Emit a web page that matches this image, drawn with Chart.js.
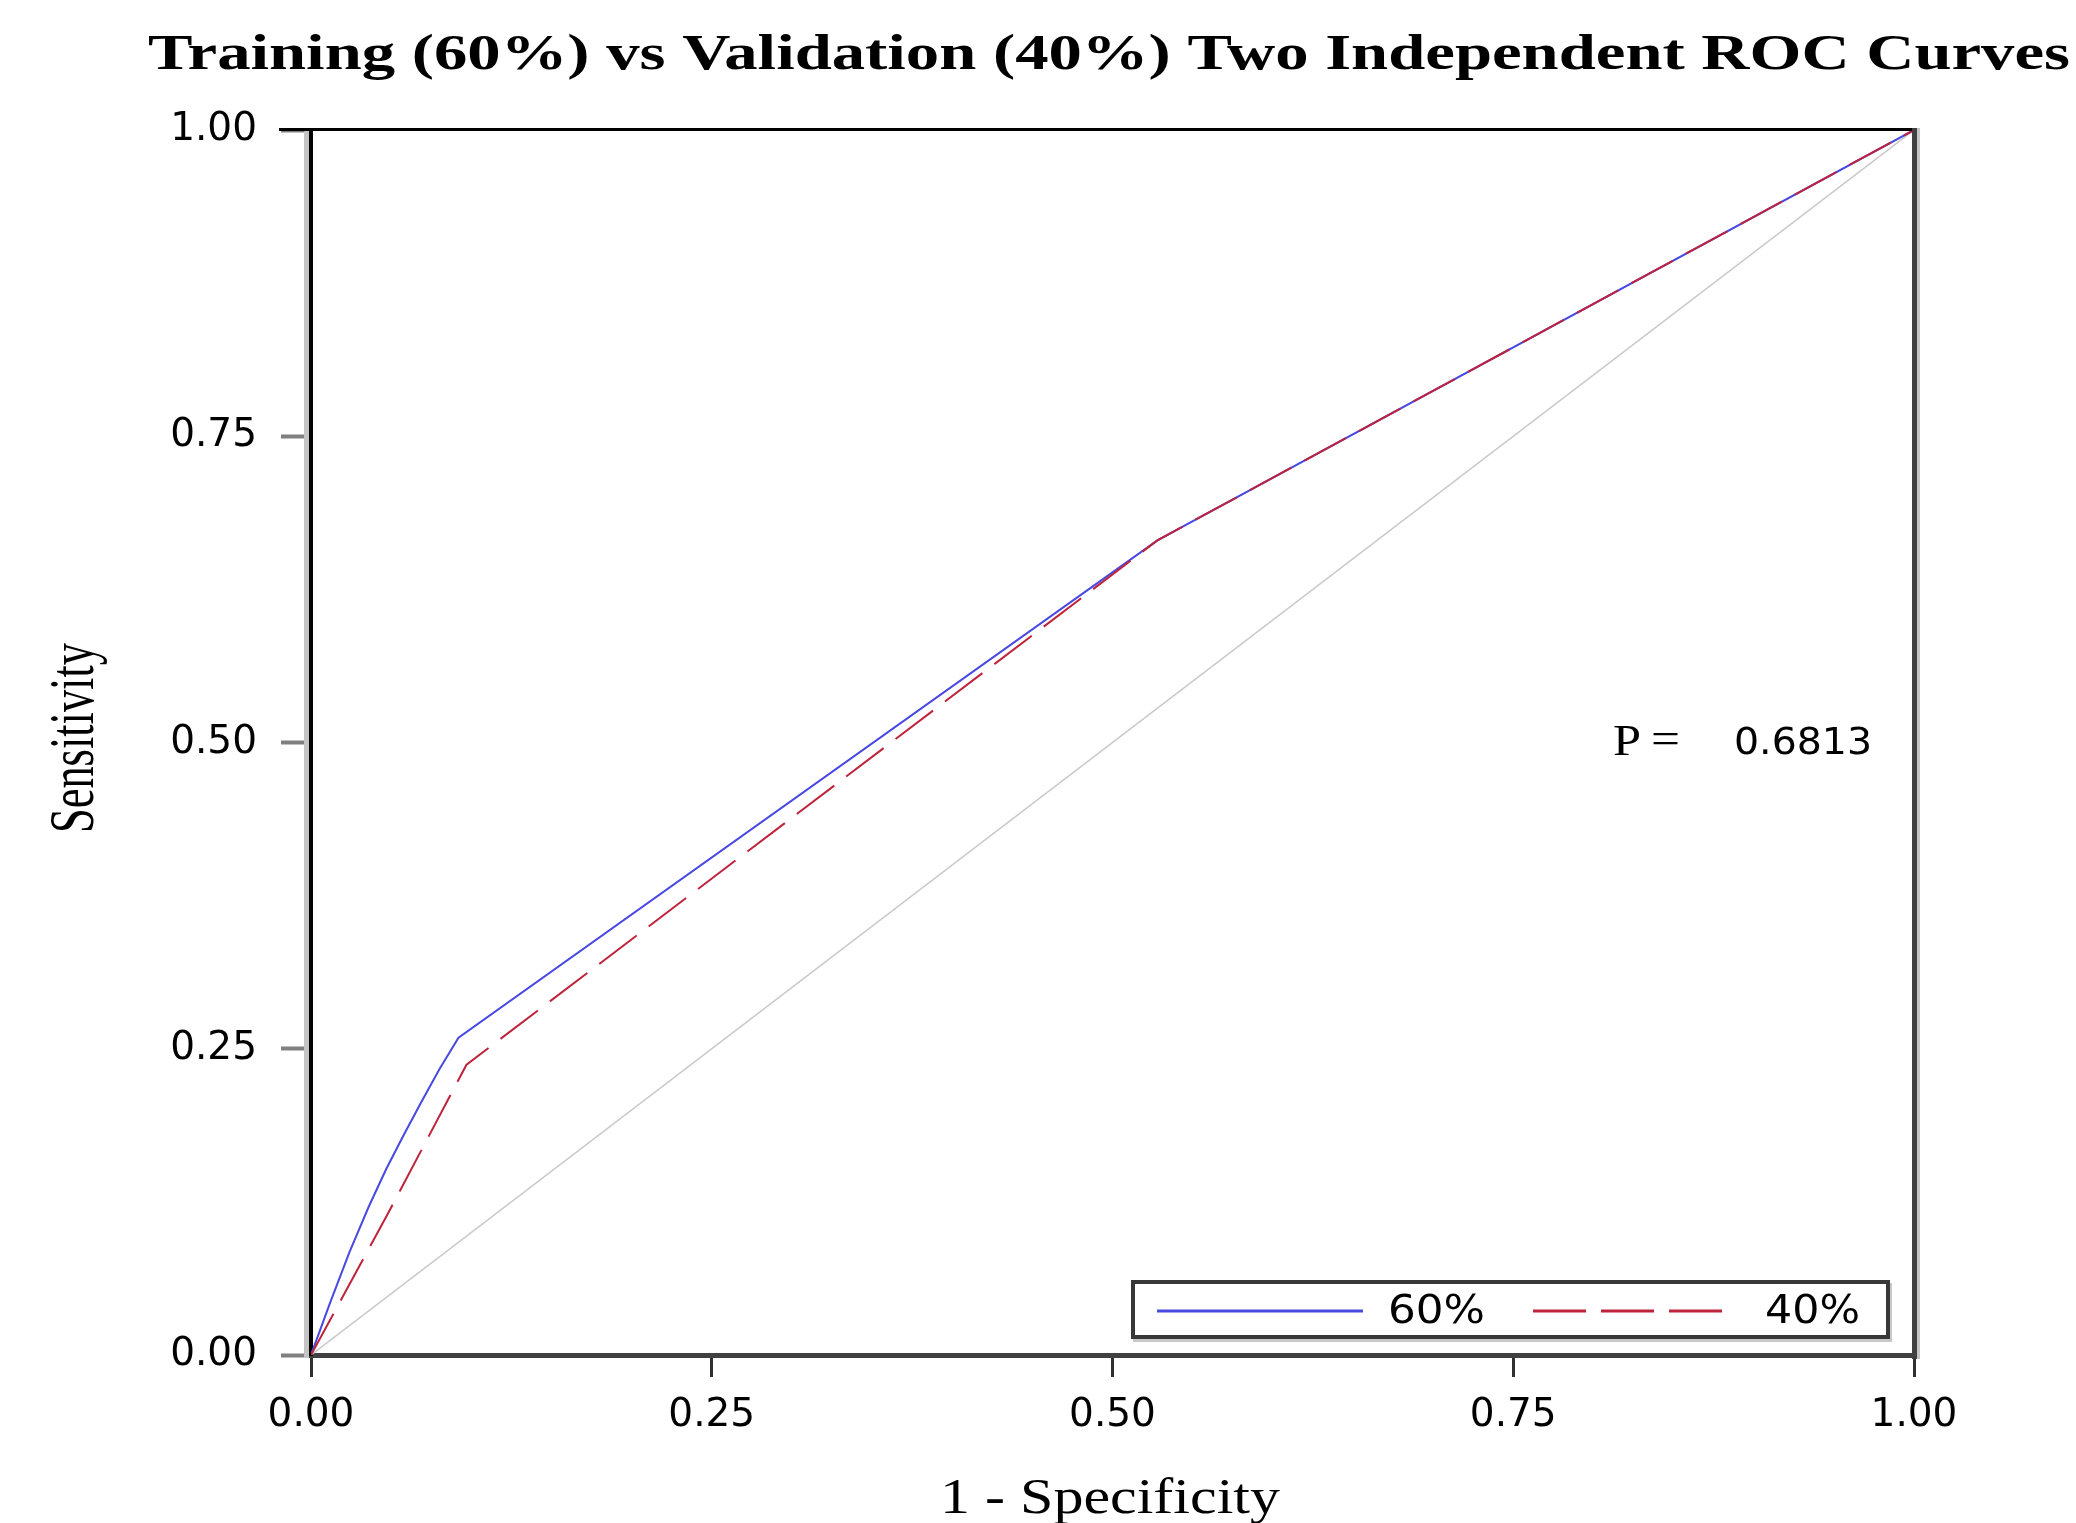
<!DOCTYPE html>
<html>
<head>
<meta charset="utf-8">
<title>ROC curves</title>
<script src="https://cdn.jsdelivr.net/npm/chart.js@4.4.1/dist/chart.umd.min.js"></script>
<style>
  html, body { margin: 0; padding: 0; background: #fff; }
  #wrap { width: 2076px; height: 1523px; position: relative; }
</style>
</head>
<body>
<div id="wrap"><canvas id="roc"></canvas></div>
<script>
// Datos
const titleText = 'Training (60%) vs Validation (40%) Two Independent ROC Curves';
const xTitle = '1 - Specificity';
const yTitle = 'Sensitivity';
const xTickLabels = ['0.00', '0.25', '0.50', '0.75', '1.00'];
const yTickLabels = ['0.00', '0.25', '0.50', '0.75', '1.00'];
const seriesLabels = ['60%', '40%'];

// Curva entrenamiento (60%)
const trainFpr = [0, 0.012, 0.024, 0.036, 0.047, 0.058, 0.069, 0.080, 0.092, 0.528, 1];
const trainTpr = [0, 0.043, 0.084, 0.121, 0.152, 0.180, 0.207, 0.233, 0.259, 0.665, 1];

// Curva validacion (40%)
const validFpr = [0, 0.047, 0.097, 0.528, 1];
const validTpr = [0, 0.113, 0.237, 0.665, 1];

// Linea de referencia
const refFpr = [0, 1];
const refTpr = [0, 1];

const pLabel = 'P =';
const pValue = '0.6813';

function toPoints(xs, ys) {
    return xs.map((x, i) => ({ x: x, y: ys[i] }));
}

// dibuja texto estirado a un ancho dado
function drawStretched(ctx, text, font, x, y, width) {
    ctx.save();
    ctx.font = font;
    ctx.textAlign = 'left';
    ctx.textBaseline = 'alphabetic';
    const w = ctx.measureText(text).width;
    ctx.translate(x, y);
    ctx.scale(width / w, 1);
    ctx.fillText(text, 0, 0);
    ctx.restore();
}

const decor = {
    id: 'decor',
    afterDraw(chart) {
        const ctx = chart.ctx;
        const a = chart.chartArea;
        ctx.save();

        // sombra gris del eje y
        ctx.fillStyle = '#c4c4c4';
        ctx.fillRect(a.left - 7, a.top, 5, a.bottom - a.top + 3);
        // marco superior y derecho
        ctx.fillStyle = '#000';
        ctx.fillRect(a.left - 32, a.top - 2, a.right - a.left + 32, 3);
        ctx.fillStyle = '#404040';
        ctx.fillRect(a.right - 2, a.top - 2, 5, a.bottom - a.top + 6);
        ctx.fillStyle = '#c4c4c4';
        ctx.fillRect(a.right + 3, a.top - 2, 3, a.bottom - a.top + 6);

        ctx.fillStyle = '#000';
        // titulo
        drawStretched(ctx, titleText, 'bold 50px "Liberation Serif"', 148, 69, 1922);
        // titulo eje x
        drawStretched(ctx, xTitle, '50px "Liberation Serif"', 940, 1513, 340);
        // titulo eje y (rotado)
        ctx.save();
        ctx.translate(93, 833);
        ctx.rotate(-Math.PI / 2);
        drawStretched(ctx, yTitle, '64px "Liberation Serif"', 0, 0, 190);
        ctx.restore();

        // valor P
        const pParts = pLabel.split(' ');
        drawStretched(ctx, pParts[0], '45px "Liberation Serif"', 1613, 755, 28);
        drawStretched(ctx, pParts[1], '45px "Liberation Serif"', 1651, 753, 29);
        drawStretched(ctx, pValue, '37px "DejaVu Sans"', 1734, 754, 138);

        // leyenda
        const lx = 1131, ly = 1280, lw = 759, lh = 59;
        ctx.fillStyle = '#c8c8c8';
        ctx.fillRect(lx + 2, ly + 3, lw, lh);
        ctx.fillStyle = '#fff';
        ctx.fillRect(lx, ly, lw, lh);
        ctx.strokeStyle = '#383838';
        ctx.lineWidth = 4;
        ctx.strokeRect(lx + 2, ly + 2, lw - 4, lh - 4);

        const ds = chart.data.datasets;
        const entries = [
            { d: ds[0], x1: 1157, x2: 1363, tx: 1388, tw: 97, dash: [] },
            { d: ds[1], x1: 1533, x2: 1725, tx: 1765, tw: 95, dash: [53, 15] }
        ];
        entries.forEach(e => {
            ctx.save();
            ctx.strokeStyle = e.d.borderColor;
            ctx.lineWidth = 3;
            ctx.setLineDash(e.dash);
            ctx.beginPath();
            ctx.moveTo(e.x1, 1311);
            ctx.lineTo(e.x2, 1311);
            ctx.stroke();
            ctx.restore();
            ctx.fillStyle = '#000';
            drawStretched(ctx, e.d.label, '39px "DejaVu Sans"', e.tx, 1323, e.tw);
        });

        ctx.restore();
    }
};

const ctx = document.getElementById('roc').getContext('2d');
new Chart(ctx, {
    type: 'line',
    data: {
        datasets: [
            {
                label: seriesLabels[0],
                data: toPoints(trainFpr, trainTpr),
                borderColor: 'rgb(72, 72, 226)',
                borderWidth: 2,
                pointRadius: 0,
                tension: 0,
                fill: false,
                order: 1
            },
            {
                label: seriesLabels[1],
                data: toPoints(validFpr, validTpr),
                borderColor: 'rgb(190, 35, 60)',
                borderWidth: 2,
                borderDash: [47, 15],
                pointRadius: 0,
                tension: 0,
                fill: false,
                order: 0
            },
            {
                label: 'ref',
                data: toPoints(refFpr, refTpr),
                borderColor: '#cacaca',
                borderWidth: 1.5,
                pointRadius: 0,
                fill: false,
                order: 2
            }
        ]
    },
    options: {
        responsive: true,
        maintainAspectRatio: false,
        animation: false,
        layout: { padding: { left: 0, top: 130, right: 162, bottom: 0 } },
        plugins: {
            legend: { display: false },
            title: { display: false },
            tooltip: { enabled: false }
        },
        scales: {
            x: {
                type: 'linear',
                min: 0,
                max: 1,
                afterFit(scale) { scale.height = 168; },
                ticks: {
                    stepSize: 0.25,
                    autoSkip: false,
                    maxRotation: 0,
                    padding: 15,
                    color: '#000',
                    font: { family: 'DejaVu Sans', size: 39 },
                    callback: (v, i) => xTickLabels[i]
                },
                grid: {
                    drawOnChartArea: false,
                    drawTicks: true,
                    tickLength: 22,
                    tickColor: '#303030',
                    tickWidth: 3
                },
                border: { display: true, color: '#404040', width: 5 }
            },
            y: {
                type: 'linear',
                min: 0,
                max: 1,
                afterFit(scale) { scale.width = 311; },
                ticks: {
                    stepSize: 0.25,
                    autoSkip: false,
                    padding: 24,
                    color: '#000',
                    font: { family: 'DejaVu Sans', size: 39 },
                    callback: (v, i) => yTickLabels[i]
                },
                grid: {
                    drawOnChartArea: false,
                    drawTicks: true,
                    tickLength: 30,
                    tickColor: '#808080',
                    tickWidth: 4
                },
                border: { display: true, color: '#000', width: 4 }
            }
        }
    },
    plugins: [decor]
});
</script>
</body>
</html>
